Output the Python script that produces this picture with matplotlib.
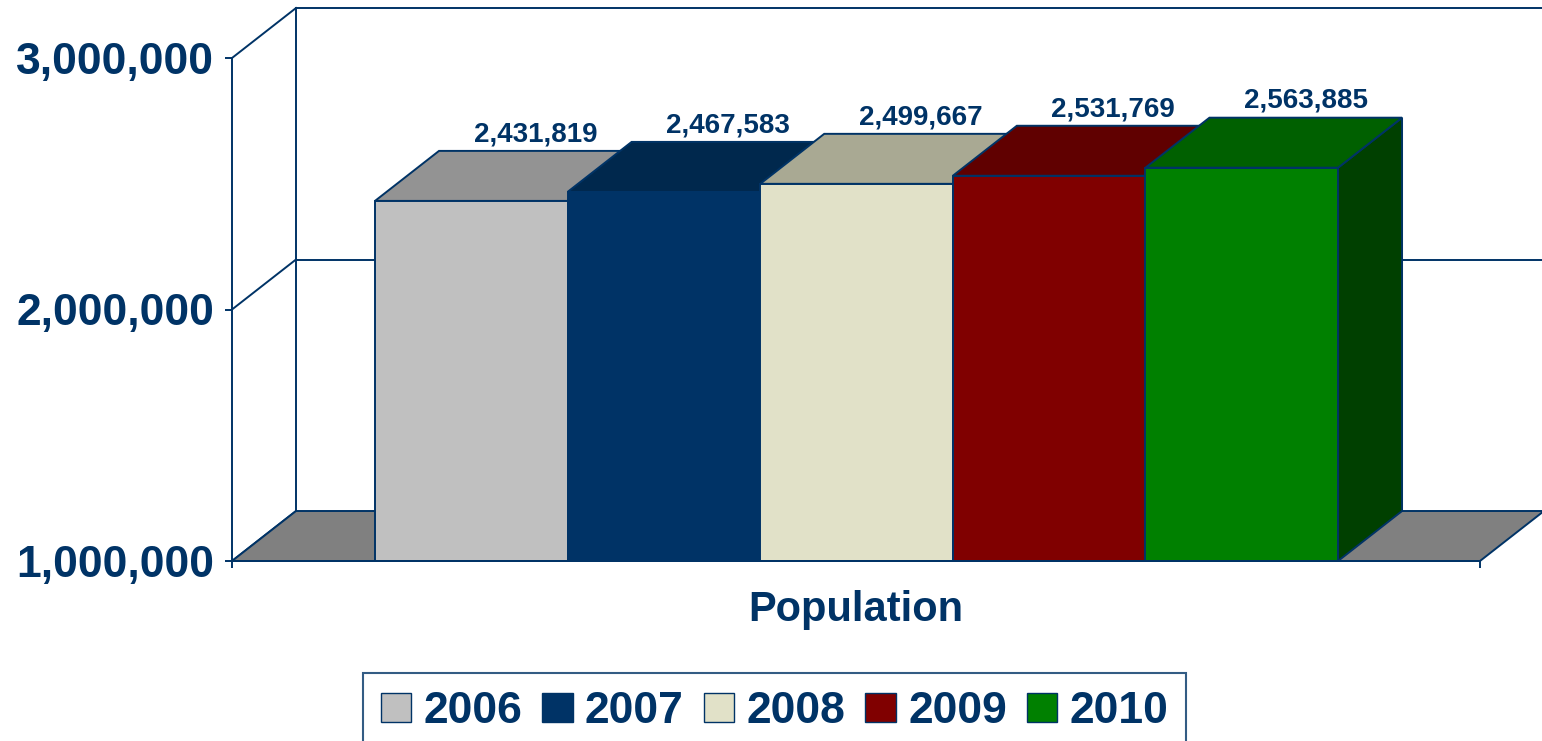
import numpy as np
import matplotlib
matplotlib.use("Agg")
import matplotlib.pyplot as plt
from matplotlib.patches import Polygon, Patch

plt.rcParams['font.family'] = ['Liberation Sans', 'DejaVu Sans']

# data
years = ["2006", "2007", "2008", "2009", "2010"]
population = [2431819, 2467583, 2499667, 2531769, 2563885]
front_colors = ["#C0C0C0", "#003366", "#E1E1C8", "#800000", "#008000"]
top_colors = ["#939393", "#00284D", "#A9A993", "#600000", "#006000"]
side_colors = ["#808080", "#001F3F", "#8C8C78", "#4A0000", "#004000"]

yticks = [1000000, 2000000, 3000000]
category = "Population"

NAVY = "#003366"
FLOOR = "#808080"

fig = plt.figure(figsize=(15.42, 7.41), dpi=100)
ax = fig.add_axes([232 / 1542, 180 / 741, 1248 / 1542, 503 / 741])

xmin, xmax = -1.2425, 5.237
ymin, ymax = yticks[0], yticks[-1]
ax.set_xlim(xmin, xmax)
ax.set_ylim(ymin, ymax)

# depth of the fake 3d box (data units)
DX = 64 / 1248 * (xmax - xmin)
DY = 50 / 503 * (ymax - ymin)

lw = 1.4

# side wall diagonals and back wall grid
for t in yticks:
    ax.plot([xmin, xmin + DX], [t, t + DY], color=NAVY, lw=lw, clip_on=False, zorder=1)
for t in yticks[1:]:
    ax.plot([xmin + DX, xmax + DX], [t + DY, t + DY], color=NAVY, lw=lw, clip_on=False, zorder=1)
ax.plot([xmin + DX, xmin + DX], [ymin + DY, ymax + DY], color=NAVY, lw=lw, clip_on=False, zorder=1)

# floor
floor = Polygon([(xmin, ymin), (xmax, ymin), (xmax + DX, ymin + DY), (xmin + DX, ymin + DY)],
                closed=True, facecolor=FLOOR, edgecolor=NAVY, lw=lw, clip_on=False, zorder=2)
ax.add_patch(floor)

# bars, left to right so later ones cover earlier sides
for i, (v, fc, tc, sc) in enumerate(zip(population, front_colors, top_colors, side_colors)):
    x0, x1 = i - 0.5, i + 0.5
    z = 3 + i
    side = Polygon([(x1, ymin), (x1 + DX, ymin + DY), (x1 + DX, v + DY), (x1, v)],
                   closed=True, facecolor=sc, edgecolor=NAVY, lw=lw, clip_on=False, zorder=z)
    top = Polygon([(x0, v), (x1, v), (x1 + DX, v + DY), (x0 + DX, v + DY)],
                  closed=True, facecolor=tc, edgecolor=NAVY, lw=lw, clip_on=False, zorder=z)
    ax.add_patch(side)
    ax.add_patch(top)
    ax.bar(i, v - ymin, bottom=ymin, width=1.0, color=fc, edgecolor=NAVY, lw=lw, zorder=z)
    ax.annotate(f"{v:,}", xy=(i + DX, v + DY), xytext=(0, 7), textcoords="offset points",
                ha="center", va="baseline", fontsize=20, fontweight="bold", color=NAVY,
                zorder=10, annotation_clip=False)

# axes styling
for s in ["top", "right"]:
    ax.spines[s].set_visible(False)
for s in ["left", "bottom"]:
    ax.spines[s].set_color(NAVY)
    ax.spines[s].set_linewidth(lw)
    ax.spines[s].set_zorder(20)
ax.set_yticks(yticks)
ax.set_yticklabels([f"{t:,}" for t in yticks])
ax.tick_params(axis="y", length=5, width=lw, color=NAVY, pad=8, labelsize=32, labelcolor=NAVY)
for lab in ax.get_yticklabels():
    lab.set_fontweight("bold")
ax.set_xticks([xmin, xmax])
ax.set_xticklabels(["", ""])
ax.tick_params(axis="x", length=5, width=lw, color=NAVY)
ax.patch.set_visible(False)

fig.text(856 / 1542, 1 - 621 / 741, category, ha="center", va="baseline",
         fontsize=30, fontweight="bold", color=NAVY)

handles = [Patch(facecolor=c, edgecolor=NAVY, lw=1) for c in front_colors]
leg = fig.legend(handles, years, loc="upper left", bbox_to_anchor=(363 / 1542, 1 - 673 / 741),
                 ncol=5, fontsize=32, frameon=True, fancybox=False, borderaxespad=0,
                 handlelength=0.68, handleheight=0.63, handletextpad=0.28, columnspacing=0.45,
                 borderpad=0.4)
leg.get_frame().set_edgecolor(NAVY)
leg.get_frame().set_linewidth(1.5)
for t in leg.get_texts():
    t.set_fontweight("bold")
    t.set_color(NAVY)

fig.savefig("out.png", dpi=100)
